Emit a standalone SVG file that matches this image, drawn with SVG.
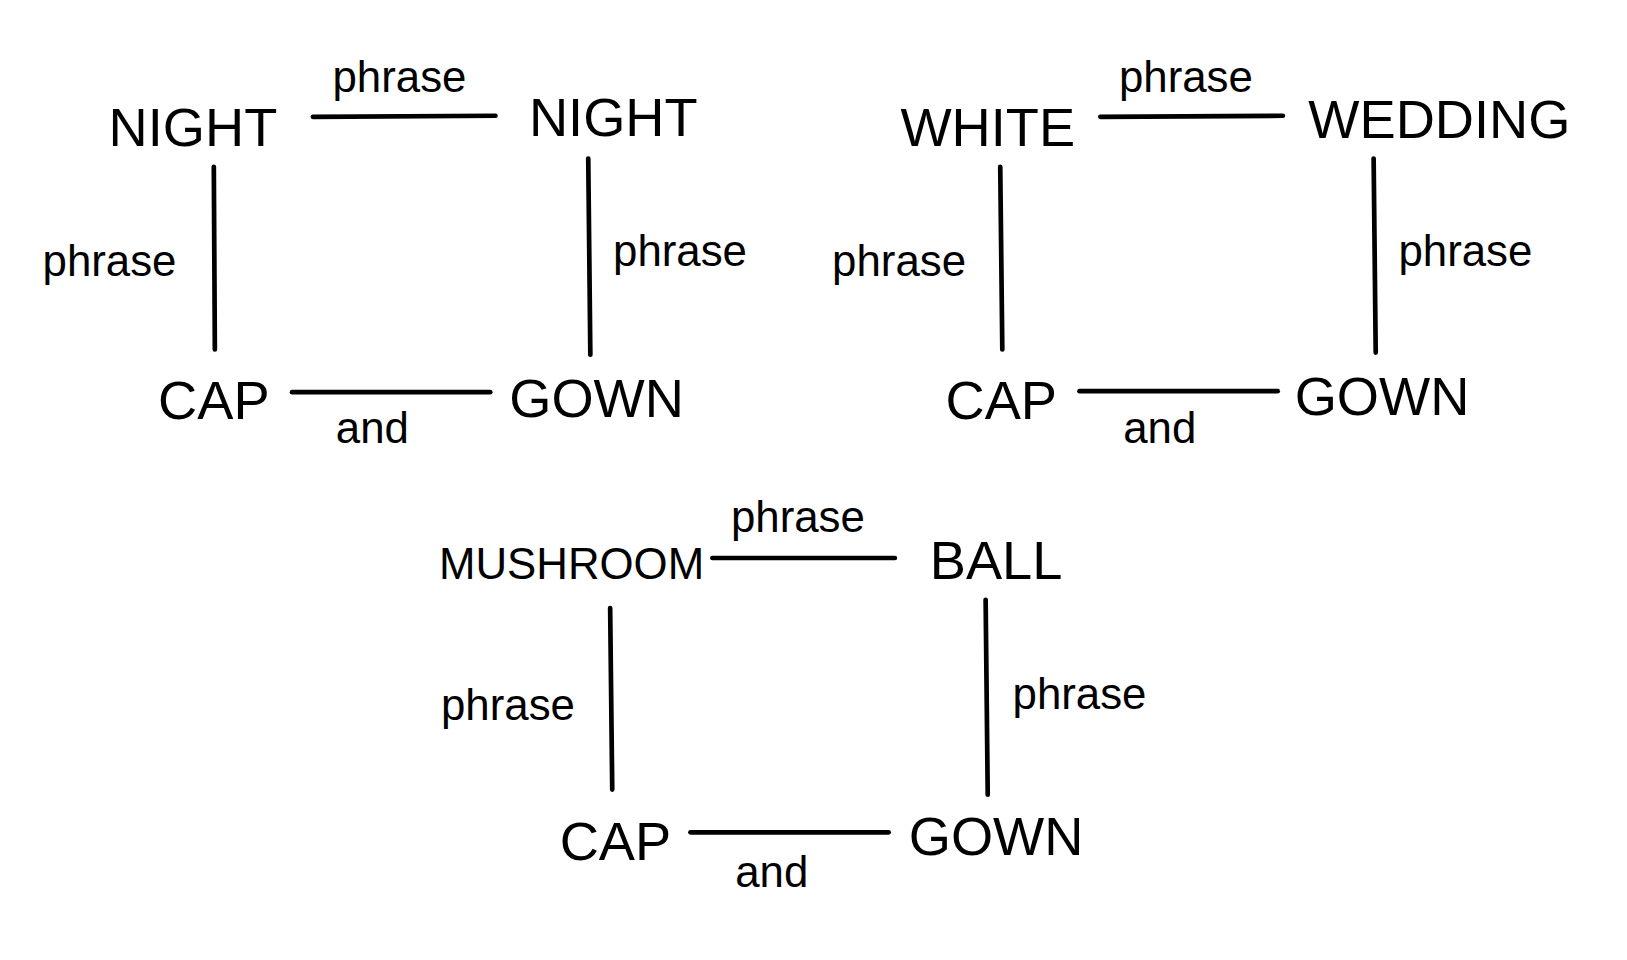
<svg xmlns="http://www.w3.org/2000/svg" width="1627" height="960" viewBox="0 0 1627 960">
<style>
.n{font-family:"Liberation Sans",sans-serif;font-size:52px;text-anchor:middle;fill:#000}
.l{font-family:"Liberation Sans",sans-serif;font-size:42px;text-anchor:middle;fill:#000}
.c line{stroke:#000;stroke-width:4.5;stroke-linecap:round}
</style>
<rect width="1627" height="960" fill="#fff"/>
<g transform="scale(1.043)">
<g class="c" id="connectors">
<line x1="300" y1="112" x2="475" y2="111"/><line x1="205" y1="160" x2="206" y2="335"/><line x1="564" y1="152" x2="566" y2="340"/><line x1="280" y1="376" x2="470" y2="376"/>
<line x1="1055" y1="112" x2="1230" y2="111"/><line x1="959" y1="160" x2="961" y2="335"/><line x1="1317" y1="152" x2="1319" y2="338"/><line x1="1035" y1="375" x2="1225" y2="375"/>
<line x1="683" y1="535" x2="858" y2="535"/><line x1="585" y1="583" x2="587" y2="757"/><line x1="945" y1="575" x2="947" y2="762"/><line x1="662" y1="798" x2="852" y2="798"/>
</g>
<g class="l" id="labels">
<text x="383" y="88">phrase</text><text x="105" y="265">phrase</text><text x="652" y="255">phrase</text><text x="357" y="425">and</text>
<text x="1137" y="88">phrase</text><text x="862" y="265">phrase</text><text x="1405" y="255">phrase</text><text x="1112" y="425">and</text>
<text x="765" y="510">phrase</text><text x="487" y="690">phrase</text><text x="1035" y="680">phrase</text><text x="740" y="850">and</text>
</g>
<g id="night1"><text class="n" x="185" y="140">NIGHT</text></g>
<g id="night2"><text class="n" x="588" y="130">NIGHT</text></g>
<g id="cap1"><text class="n" x="205" y="402">CAP</text></g>
<g id="gown1"><text class="n" x="572" y="400">GOWN</text></g>
<g id="white"><text class="n" x="947" y="140">WHITE</text></g>
<g id="wedding"><text class="n" x="1380" y="132">WEDDING</text></g>
<g id="cap2"><text class="n" x="960" y="402">CAP</text></g>
<g id="gown2"><text class="n" x="1325" y="398">GOWN</text></g>
<g id="mushroom"><text class="n" x="548" y="555" style="font-size:42px">MUSHROOM</text></g>
<g id="ball"><text class="n" x="955" y="555">BALL</text></g>
<g id="cap3"><text class="n" x="590" y="825">CAP</text></g>
<g id="gown3"><text class="n" x="955" y="820">GOWN</text></g>
</g>
</svg>
